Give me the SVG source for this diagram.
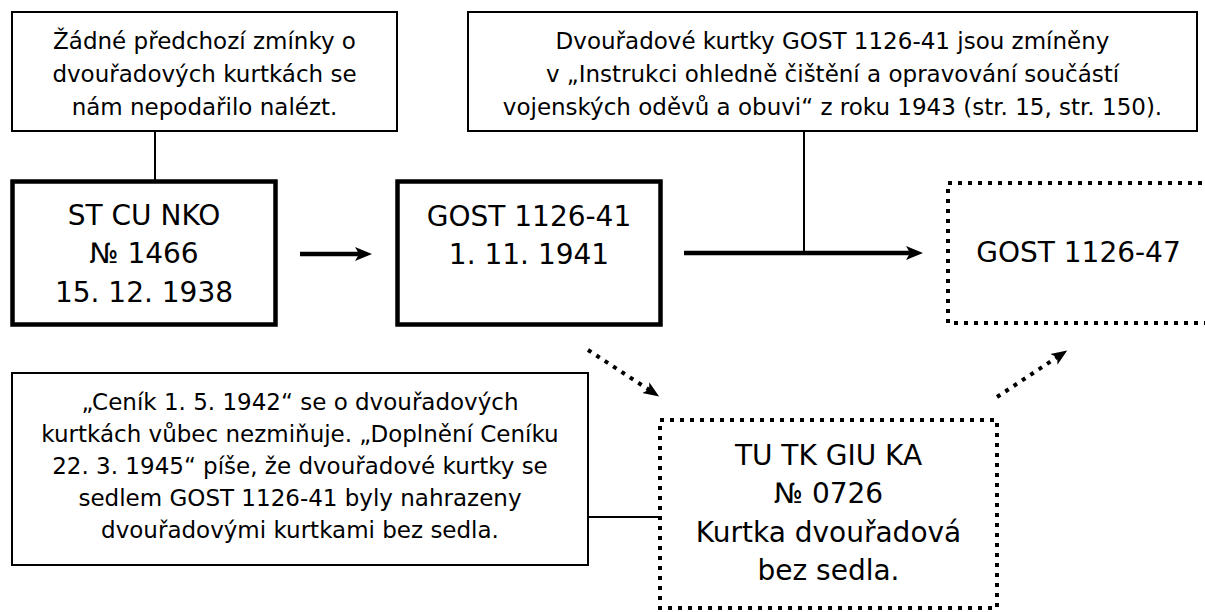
<svg xmlns="http://www.w3.org/2000/svg" width="1205" height="612" viewBox="0 0 1205 612">
<defs>
<style>
.note{fill:#fff;stroke:#000;stroke-width:2}
.main{fill:#fff;stroke:#000;stroke-width:4.5}
.dot{fill:#fff;stroke:#000;stroke-width:4;stroke-dasharray:4 6}
.t{font-family:"DejaVu Sans",sans-serif;fill:#000;text-anchor:middle}
.s{font-size:23px}
.l{font-size:28px}
.thin{stroke:#000;stroke-width:2;fill:none}
.thick{stroke:#000;stroke-width:4.5;fill:none}
.darr{stroke:#000;stroke-width:4;stroke-dasharray:4 6;fill:none}
</style>
<marker id="ah" markerUnits="userSpaceOnUse" markerWidth="18" markerHeight="16" viewBox="0 -8 18 16" refX="7" refY="0" orient="auto">
<path d="M0,-7 L17,0 L0,7 L4,0 Z" fill="#000"/>
</marker>
<marker id="ahd" markerUnits="userSpaceOnUse" markerWidth="18" markerHeight="16" viewBox="0 -8 18 16" refX="7" refY="0" orient="auto">
<path d="M0,-6.5 L16,0 L0,6.5 L4,0 Z" fill="#000"/>
</marker>
</defs>
<rect width="1205" height="612" fill="#fff"/>
<g id="connectors">
<line class="thin" x1="155" y1="131" x2="155" y2="181"/>
<line class="thin" x1="804" y1="131" x2="804" y2="253"/>
<line class="thin" x1="588" y1="517" x2="660" y2="517"/>
<line class="thick" x1="300" y1="254" x2="362" y2="254" marker-end="url(#ah)"/>
<line class="thick" x1="684" y1="253" x2="913" y2="253" marker-end="url(#ah)"/>
<line class="darr" x1="588" y1="350" x2="651.6" y2="391.5" marker-end="url(#ahd)"/>
<line class="darr" x1="997" y1="397" x2="1059.7" y2="355.5" marker-end="url(#ahd)"/>
</g>
<g id="note1">
<rect class="note" x="12" y="12" width="385" height="119"/>
<text class="t s" x="204.5" y="49">Žádné předchozí zmínky o</text>
<text class="t s" x="204.5" y="82">dvouřadových kurtkách se</text>
<text class="t s" x="204.5" y="115">nám nepodařilo nalézt.</text>
</g>
<g id="note2">
<rect class="note" x="468" y="12" width="729" height="119"/>
<text class="t s" x="832.5" y="49">Dvouřadové kurtky GOST 1126-41 jsou zmíněny</text>
<text class="t s" x="832.5" y="82">v „Instrukci ohledně čištění a opravování součástí</text>
<text class="t s" x="832.5" y="115">vojenských oděvů a obuvi“ z roku 1943 (str. 15, str. 150).</text>
</g>
<g id="st-cu-nko">
<rect class="main" x="12.5" y="181.5" width="263" height="143"/>
<text class="t l" x="144" y="225">ST CU NKO</text>
<text class="t l" x="144" y="263">№ 1466</text>
<text class="t l" x="144" y="302">15. 12. 1938</text>
</g>
<g id="gost-41">
<rect class="main" x="397.5" y="181.5" width="263" height="143"/>
<text class="t l" x="529" y="226">GOST 1126-41</text>
<text class="t l" x="529" y="264">1. 11. 1941</text>
</g>
<g id="gost-47">
<rect class="dot" x="948" y="183" width="290" height="140"/>
<text class="t l" x="1078.5" y="262">GOST 1126-47</text>
</g>
<g id="note3">
<rect class="note" x="12" y="373" width="576" height="192"/>
<text class="t s" x="300" y="410">„Ceník 1. 5. 1942“ se o dvouřadových</text>
<text class="t s" x="300" y="442">kurtkách vůbec nezmiňuje. „Doplnění Ceníku</text>
<text class="t s" x="300" y="474">22. 3. 1945“ píše, že dvouřadové kurtky se</text>
<text class="t s" x="300" y="506">sedlem GOST 1126-41 byly nahrazeny</text>
<text class="t s" x="300" y="538">dvouřadovými kurtkami bez sedla.</text>
</g>
<g id="tu-tk-giu-ka">
<rect class="dot" x="660" y="420" width="337" height="188"/>
<text class="t l" x="828.5" y="465">TU TK GIU KA</text>
<text class="t l" x="828.5" y="503">№ 0726</text>
<text class="t l" x="828.5" y="542">Kurtka dvouřadová</text>
<text class="t l" x="828.5" y="580">bez sedla.</text>
</g>
</svg>
